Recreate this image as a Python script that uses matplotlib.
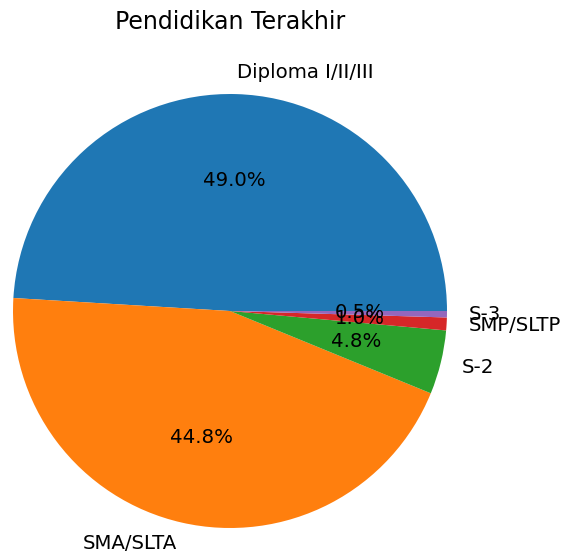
import matplotlib.pyplot as plt

# data: jumlah per pendidikan terakhir
labels = ['Diploma I/II/III', 'SMA/SLTA', 'S-2', 'SMP/SLTP', 'S-3']
counts = [103, 94, 10, 2, 1]

fig = plt.figure(figsize=(5.61, 5.57), dpi=100)

# pie center ~ (230, 311) px, radius ~ 217 px -> axes spans 2.5 * radius
r = 217
cx, cy = 230, 557 - 311
w = 2.5 * r
ax = fig.add_axes([(cx - w / 2) / 561, (cy - w / 2) / 557, w / 561, w / 557])

ax.pie(counts, labels=labels, autopct='%1.1f%%',
       textprops={'fontsize': 14.2})
ax.set_title('Pendidikan Terakhir', fontsize=17, pad=8)

fig.savefig('out.png', dpi=100)
